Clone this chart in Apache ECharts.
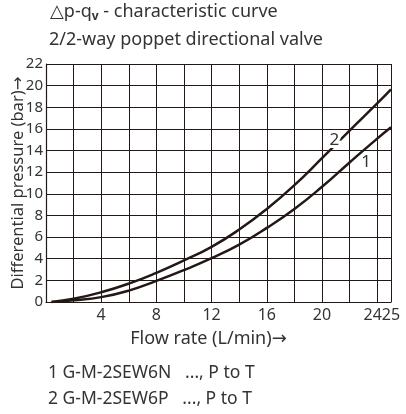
<!DOCTYPE html>
<html>
<head>
<meta charset="utf-8">
<script src="https://cdn.jsdelivr.net/npm/echarts@6/dist/echarts.min.js"></script>
<style>html,body{margin:0;padding:0;background:#fff}#c{width:406px;height:414px}</style>
</head>
<body>
<div id="c"></div>
<script>
var flowX = [0.4, 2, 4, 6, 8, 10, 12, 14, 16, 18, 20, 22, 24, 25];
var curve2 = [0, 0.3, 0.9, 1.7, 2.7, 3.85, 5.1, 6.7, 8.6, 10.8, 13.3, 15.85, 18.35, 19.65];
var curve1 = [0, 0.15, 0.45, 1.05, 1.95, 2.95, 4.05, 5.3, 6.85, 8.6, 10.65, 12.9, 15.1, 16.15];
var xTickLabels = [4, 8, 12, 16, 20, 24];
var xEndLabel = 25;
var label1Pos = [23.2, 12.95];
var label2Pos = [20.9, 15.0];
var notes = ['1 G-M-2SEW6N   ..., P to T', '2 G-M-2SEW6P   ..., P to T'];

var FONT = "'Noto Sans', 'DejaVu Sans', sans-serif";
var TXT = '#333';
var LINE = '#231815';

function pairs(xs, ys) { return xs.map(function (x, i) { return [x, ys[i]]; }); }
function curveLabel(txt, pos) {
  return {
    symbol: 'circle',
    symbolSize: 1,
    itemStyle: { color: 'rgba(0,0,0,0)' },
    silent: true,
    data: [{ coord: pos }],
    label: {
      show: true, position: 'inside', formatter: txt,
      fontFamily: FONT, fontSize: 17, color: TXT,
      textBorderColor: '#fff', textBorderWidth: 6
    }
  };
}

var chart = echarts.init(document.getElementById('c'), null, { renderer: 'canvas' });
chart.setOption({
  animation: false,
  backgroundColor: '#fff',
  title: [
    {
      left: 50, top: 1, padding: 0,
      text: '{a|△p-q}{s|v}{a| - characteristic curve}',
      textStyle: {
        rich: {
          a: { fontFamily: FONT, fontSize: 18, color: TXT, fontWeight: 'normal' },
          s: { fontFamily: FONT, fontSize: 12, color: TXT, padding: [10, 0, 0, 0] }
        }
      }
    },
    {
      left: 49, top: 31, padding: 0,
      text: '2/2-way poppet directional valve',
      textStyle: { fontFamily: FONT, fontSize: 18, color: TXT, fontWeight: 'normal' }
    },
    {
      left: 48, top: 364, padding: 0,
      text: notes[0],
      textStyle: { fontFamily: FONT, fontSize: 17.5, color: TXT, fontWeight: 'normal' }
    },
    {
      left: 48, top: 390, padding: 0,
      text: notes[1],
      textStyle: { fontFamily: FONT, fontSize: 17.5, color: TXT, fontWeight: 'normal' }
    }
  ],
  grid: { left: 46, right: 15, top: 64, bottom: 112, containLabel: false, outerBoundsMode: 'none' },
  xAxis: [
    {
      type: 'value', min: 0, max: 25, interval: 2, position: 'bottom',
      name: 'Flow rate (L/min)→', nameLocation: 'middle', nameGap: 28, nameMoveOverlap: false,
      nameTextStyle: { fontFamily: FONT, fontSize: 18, color: TXT, padding: [0, 20, 0, 0] },
      axisLine: { show: true, lineStyle: { color: LINE, width: 1.2 } },
      axisTick: { show: false },
      splitLine: { show: true, lineStyle: { color: LINE, width: 1 } },
      axisLabel: {
        fontFamily: FONT, fontSize: 16, color: TXT, margin: 5,
        showMaxLabel: false, showMinLabel: false, hideOverlap: false,
        formatter: function (v) {
          if (xTickLabels.indexOf(v) < 0) return '';
          return v === 24 ? '{r|' + v + '}' : String(v);
        },
        rich: { r: { fontFamily: FONT, fontSize: 16, color: TXT, padding: [0, 9, 0, 0] } }
      }
    },
    {
      type: 'value', min: 0, max: 25, interval: 25, position: 'bottom', offset: 0,
      axisLine: { show: false },
      axisTick: { show: false },
      splitLine: { show: true, lineStyle: { color: LINE, width: 1 } },
      axisLabel: {
        fontFamily: FONT, fontSize: 16, color: TXT, margin: 5,
        formatter: function (v) { return v === xEndLabel ? String(v) : ''; }
      }
    }
  ],
  yAxis: {
    type: 'value', min: 0, max: 22, interval: 2,
    name: 'Differential pressure (bar)→', nameLocation: 'middle', nameGap: 19, nameMoveOverlap: false,
    nameTextStyle: { fontFamily: FONT, fontSize: 16.5, color: TXT },
    axisLine: { show: true, lineStyle: { color: LINE, width: 1.2 } },
    axisTick: { show: false },
    splitLine: { show: true, lineStyle: { color: LINE, width: 1 } },
    axisLabel: { fontFamily: FONT, fontSize: 15, color: TXT, margin: 3 }
  },
  series: [
    {
      name: '1', type: 'line', data: pairs(flowX, curve1), smooth: 0.5,
      showSymbol: false, lineStyle: { color: LINE, width: 2.5 }, z: 3,
      markPoint: curveLabel('1', label1Pos)
    },
    {
      name: '2', type: 'line', data: pairs(flowX, curve2), smooth: 0.5,
      showSymbol: false, lineStyle: { color: LINE, width: 2.5 }, z: 3,
      markPoint: curveLabel('2', label2Pos)
    }
  ]
});
</script>
</body>
</html>
